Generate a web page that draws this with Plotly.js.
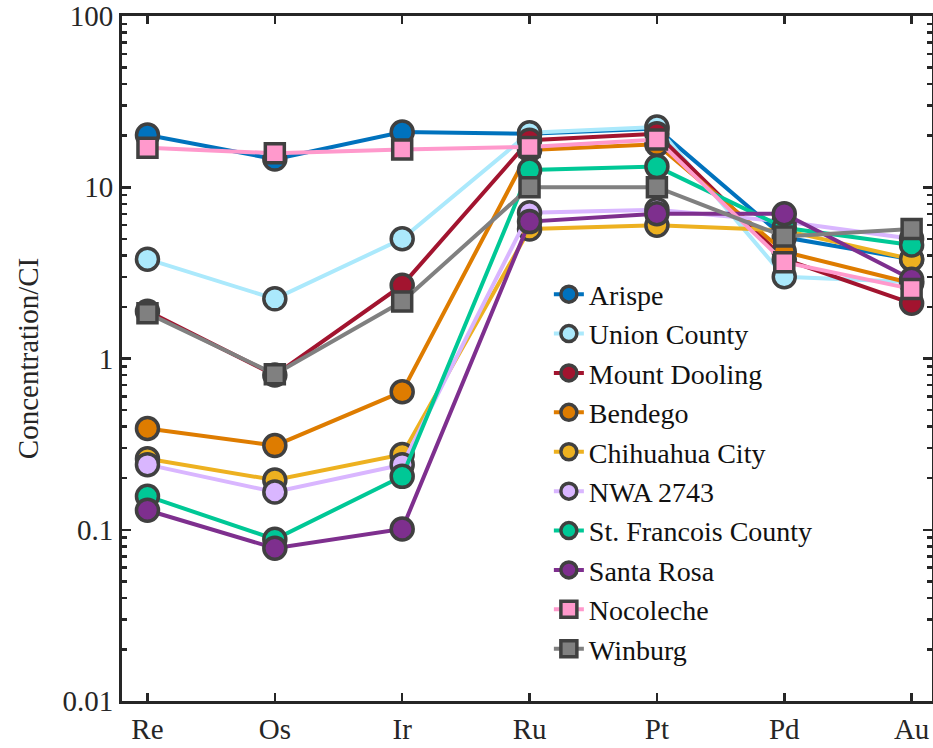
<!DOCTYPE html>
<html>
<head>
<meta charset="utf-8">
<script src="https://cdn.plot.ly/plotly-3.0.1.min.js"></script>
<style>html,body{margin:0;padding:0;background:#fff;}#chart{width:933px;height:748px;}</style>
</head>
<body>
<div id="chart"></div>
<script>
const elements = ["Re", "Os", "Ir", "Ru", "Pt", "Pd", "Au"];
const seriesNames = ["Arispe", "Union County", "Mount Dooling", "Bendego", "Chihuahua City", "NWA 2743", "St. Francois County", "Santa Rosa", "Nocoleche", "Winburg"];
const arispe        = [20.2, 14.6, 21.0, 20.5, 22.0, 5.1, 3.8];
const unionCounty   = [3.8, 2.23, 5.0, 20.8, 22.5, 3.0, 2.8];
const mountDooling  = [1.89, 0.80, 2.68, 18.8, 20.5, 3.8, 2.1];
const bendego       = [0.39, 0.31, 0.64, 16.5, 17.8, 4.2, 2.75];
const chihuahuaCity = [0.26, 0.195, 0.275, 5.7, 6.0, 5.6, 3.8];
const nwa2743       = [0.24, 0.166, 0.24, 7.1, 7.4, 6.3, 5.0];
const stFrancois    = [0.157, 0.088, 0.205, 12.6, 13.2, 5.8, 4.6];
const santaRosa     = [0.130, 0.078, 0.101, 6.3, 7.0, 7.0, 2.9];
const nocoleche     = [17.0, 15.8, 16.6, 17.2, 19.0, 3.65, 2.55];
const winburg       = [1.84, 0.81, 2.15, 10.0, 10.0, 5.15, 5.7];
const allValues = [arispe, unionCounty, mountDooling, bendego, chihuahuaCity, nwa2743, stFrancois, santaRosa, nocoleche, winburg];
const colors = ["#0072BD", "#ABE9FC", "#A2142F", "#DE7C00", "#EDB120", "#D9B6FF", "#00C896", "#7E2F8E", "#FF99CC", "#808080"];
const symbols = ["circle","circle","circle","circle","circle","circle","circle","circle","square","square"];

const traces = seriesNames.map((name, i) => ({
  x: elements,
  y: allValues[i],
  name: name,
  type: "scatter",
  mode: "lines+markers",
  line: {color: colors[i], width: 4},
  marker: {
    symbol: symbols[i],
    size: symbols[i] === "square" ? 19 : 22,
    color: colors[i],
    line: {color: "#404040", width: 3.5}
  }
}));

const serif = "Liberation Serif, DejaVu Serif, serif";
const font = {family: serif, size: 29, color: "#262626"};

const layout = {
  width: 933, height: 748,
  margin: {l: 122, r: 1, t: 16, b: 47},
  paper_bgcolor: "#fff", plot_bgcolor: "#fff",
  font: font,
  showlegend: true,
  legend: {
    x: 0.527, y: 0.63, xanchor: "left", yanchor: "top",
    bgcolor: "rgba(0,0,0,0)", borderwidth: 0,
    font: {family: serif, size: 28, color: "#111"},
    tracegroupgap: 0
  },
  xaxis: {
    type: "category",
    range: [-0.2, 6.16],
    showline: true, linewidth: 3, linecolor: "#262626", mirror: "ticks",
    ticks: "inside", ticklen: 8, tickwidth: 2.5, tickcolor: "#262626",
    showgrid: false, zeroline: false,
    tickfont: {family: serif, size: 29, color: "#262626"}
  },
  yaxis: {
    type: "log",
    range: [-2, 2],
    dtick: 1,
    showline: true, linewidth: 3, linecolor: "#262626", mirror: "ticks",
    ticks: "inside", ticklen: 9, tickwidth: 2.5, tickcolor: "#262626",
    minor: {dtick: "D1", ticks: "inside", ticklen: 5, tickwidth: 2.5, tickcolor: "#262626", showgrid: false},
    showgrid: false, zeroline: false,
    tickfont: {family: serif, size: 29, color: "#262626"},
    title: {text: "Concentration/CI", font: {family: serif, size: 29, color: "#262626"}, standoff: 16}
  }
};

Plotly.newPlot("chart", traces, layout, {displayModeBar: false, staticPlot: true});
</script>
</body>
</html>
